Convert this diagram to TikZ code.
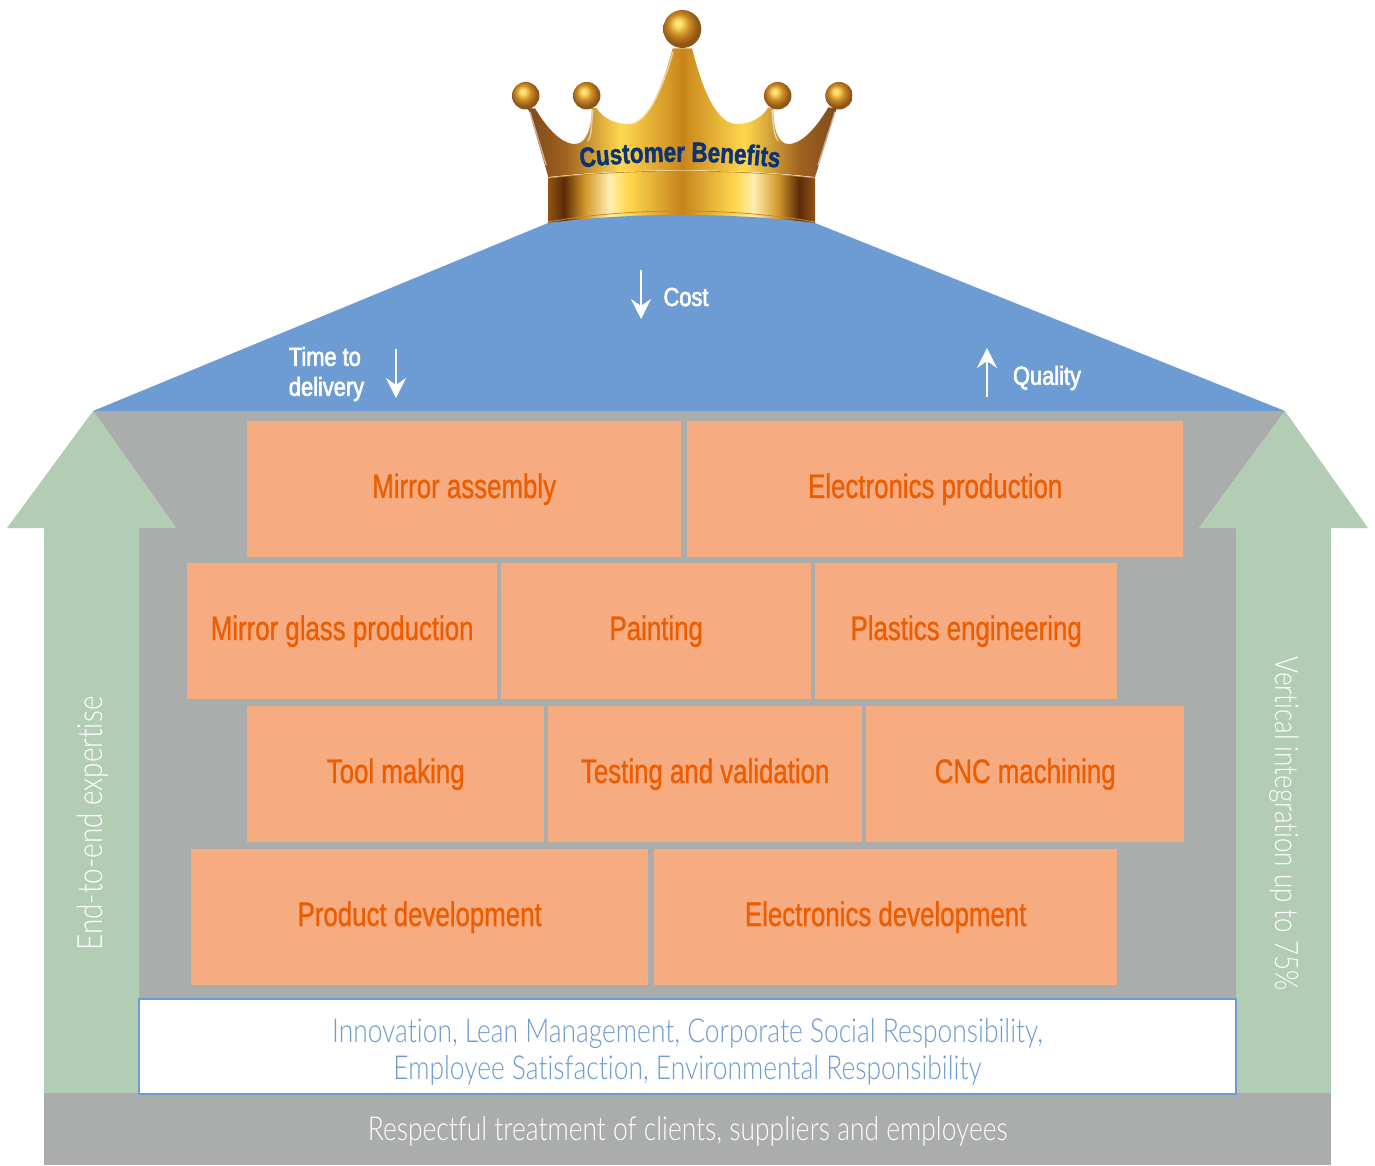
\documentclass[tikz,border=0pt]{standalone}
\usepackage{fontspec}
\setmainfont{Liberation Sans}
\newfontfamily\boxfont[FakeStretch=0.76,FakeBold=0.8]{Liberation Sans}
\newfontfamily\headfont[FakeStretch=0.84,FakeBold=2.5]{Liberation Sans}
\newfontfamily\lightfont[FakeStretch=0.80,Ligatures=NoCommon]{Lato Light}
\newfontfamily\crownfont[FakeStretch=0.80,FakeBold=1.5]{Liberation Sans}
\usetikzlibrary{arrows.meta,decorations.text}
\definecolor{roofblue}{HTML}{6D9BD3}
\definecolor{wallgray}{HTML}{ABADAC}
\definecolor{sidegreen}{HTML}{B2CDB4}
\definecolor{brickfill}{HTML}{F6AB80}
\definecolor{bricktext}{HTML}{EC5C00}
\definecolor{crownnavy}{HTML}{0B3374}
\definecolor{gBrownA}{HTML}{7E4A1C}
\definecolor{gBrownB}{HTML}{A0621F}
\definecolor{gGold}{HTML}{FFD84E}
\definecolor{gMidA}{HTML}{CE8E20}
\definecolor{gMidB}{HTML}{C6831B}
\definecolor{gBandEdge}{HTML}{8F5512}
\definecolor{gBandDark}{HTML}{5C2A08}
\definecolor{gBandTan}{HTML}{D39A2C}
\definecolor{gPale}{HTML}{FFEEB0}
\definecolor{gBallA}{HTML}{FFF0A0}
\definecolor{gBallB}{HTML}{FFD860}
\definecolor{gBallC}{HTML}{C98A24}
\definecolor{gBallD}{HTML}{8F5418}
\definecolor{gLine}{HTML}{C98A24}
\pgfdeclarehorizontalshading{crownbody}{100bp}{
 color(0bp)=(gBrownA);
 color(25bp)=(gBrownA);
 color(31bp)=(gBrownB);
 color(40bp)=(gGold);
 color(49bp)=(gMidA);
 color(50bp)=(gMidB);
 color(51bp)=(gMidA);
 color(60bp)=(gGold);
 color(69bp)=(gBrownB);
 color(75bp)=(gBrownA);
 color(100bp)=(gBrownA)}
\pgfdeclarehorizontalshading{crownband}{100bp}{
 color(0bp)=(gBandEdge);
 color(25bp)=(gBandEdge);
 color(28bp)=(gBandDark);
 color(32bp)=(gBandTan);
 color(36.5bp)=(gPale);
 color(40bp)=(gGold);
 color(50bp)=(gMidB);
 color(60bp)=(gGold);
 color(63.5bp)=(gPale);
 color(68bp)=(gBandTan);
 color(72bp)=(gBandDark);
 color(75bp)=(gBandEdge);
 color(100bp)=(gBandEdge)}
\pgfdeclareradialshading{crownball}{\pgfpoint{-6bp}{8bp}}{
 color(0bp)=(gBallA);
 color(5bp)=(gBallB);
 color(14bp)=(gBallC);
 color(24bp)=(gBallD);
 color(50bp)=(gBallD)}
\tikzset{
 brick/.style={draw=none,fill=brickfill,text=bricktext,font=\boxfont\fontsize{34}{38}\selectfont,inner sep=0pt},
 ball/.style={circle,draw=none,inner sep=0pt,shading=crownball},
 roofnote/.style={text=white,font=\headfont\fontsize{26}{30}\selectfont,inner sep=0pt,align=left},
 lighttext/.style={font=\lightfont\fontsize{33}{37}\selectfont,inner sep=0pt,align=center},
 whitearrow/.style={draw=white,line width=2pt,-{Stealth[length=20pt,width=20pt,inset=7pt]}},
 sheen/.style={draw=white,draw opacity=.55,line width=1.4pt,line cap=round},
}
\newcommand{\brickat}[6]{%
 \node[brick,minimum width=#4pt-#2pt,minimum height=#5pt-#3pt,anchor=north west] (#1) at (#2,#3) {\raisebox{-1.5pt}{#6}};}
\begin{document}
\begin{tikzpicture}[x=1pt,y=-1pt]
\useasboundingbox (0,0) rectangle (1375,1165);
% walls
\fill[wallgray] (93,411) -- (1285,411) -- (1199,528) -- (1236,528) -- (1236,1093) -- (139,1093) -- (139,528) -- (176,528) -- cycle;
% side arrows
\fill[sidegreen] (93,411) -- (176,528) -- (139,528) -- (139,1093) -- (44,1093) -- (44,528) -- (7,528) -- cycle;
\fill[sidegreen] (1285,411) -- (1368,528) -- (1331,528) -- (1331,1093) -- (1236,1093) -- (1236,528) -- (1199,528) -- cycle;
% crown body
\shade[shading=crownbody]
 (548.3,177) -- (528.3,108.3) -- (535,108.3)
 .. controls (545,125) and (560,144) .. (575,144)
 .. controls (586,144) and (592,128) .. (591.7,107.3)
 -- (596.7,108.3)
 .. controls (603,118) and (615,124) .. (626.7,124)
 .. controls (650,124) and (664,80) .. (672.7,48.3)
 -- (692,48.3)
 .. controls (700,80) and (714,124) .. (736.7,124)
 .. controls (750,124) and (762,118) .. (768.3,107.3)
 -- (773.3,108.3)
 .. controls (773,128) and (778,144) .. (788.3,144)
 .. controls (803,144) and (818,125) .. (828.3,107.3)
 -- (836.7,108.3) -- (815,177)
 .. controls (733,168) and (630,168) .. (548.3,177) -- cycle;
% crown sheen
\draw[sheen] (673,52) .. controls (665,80) and (650,122) .. (630,124);
\draw[sheen] (593,110) .. controls (591,125) and (592,135) .. (588,141);
\draw[sheen] (772,110) .. controls (773,125) and (774,135) .. (778,141);
\draw[sheen] (530,112) -- (546,165);
\draw[sheen] (835,112) -- (818,165);
% crown band
\shade[shading=crownband]
 (548,178) .. controls (630,168.8) and (733,168.8) .. (815,178)
 -- (815,224) -- (548,224) -- cycle;
\draw[gLine,line width=.8pt] (548,178) .. controls (630,168.8) and (733,168.8) .. (815,178);
\draw[gLine,line width=.8pt] (548,222) .. controls (630,207.3) and (733,207.3) .. (815,222);
% roof
\fill[roofblue] (93,411) -- (548,223) .. controls (630,212.3) and (733,212.3) .. (815,223) -- (1285,411) -- cycle;
% balls
\node[ball,minimum size=38pt] (ballT) at (682.3,29) {};
\node[ball,minimum size=27.5pt] (ballLL) at (525.7,95.7) {};
\node[ball,minimum size=27.5pt] (ballL) at (586.7,95.7) {};
\node[ball,minimum size=27.5pt] (ballR) at (777.7,95.7) {};
\node[ball,minimum size=27.5pt] (ballRR) at (839,95.7) {};
% crown text
\path[decorate,decoration={text along path,text align=center,
 text={|\crownfont\bfseries\fontsize{28}{30}\selectfont\color{crownnavy}|Customer Benefits}}]
 (575,168.5) .. controls (640,159.5) and (720,159.5) .. (785,168.5);
% bricks
\brickat{b1}{247}{421}{681}{557}{Mirror assembly}
\brickat{b2}{687}{421}{1183}{557}{Electronics production}
\brickat{b3}{187}{563}{497}{699}{Mirror glass production}
\brickat{b4}{501}{563}{811}{699}{Painting}
\brickat{b5}{815}{563}{1117}{699}{Plastics engineering}
\brickat{b6}{247}{706}{544}{842}{Tool making}
\brickat{b7}{548}{706}{862}{842}{Testing and validation}
\brickat{b8}{866}{706}{1184}{842}{CNC machining}
\brickat{b9}{191}{849}{648}{985}{Product development}
\brickat{b10}{654}{849}{1117}{985}{Electronics development}
% base
\node[fill=wallgray,text=white,lighttext,minimum width=1287pt,minimum height=72pt,anchor=north west] (base) at (44,1093) {\raisebox{-11pt}[0pt][0pt]{Respectful treatment of clients, suppliers and employees}};
% values box
\node[draw=roofblue,line width=2pt,fill=white,text=roofblue,lighttext,minimum width=1097pt,minimum height=95pt,anchor=north west] (values) at (138,997.5) {\\[-1pt]Innovation, Lean Management, Corporate Social Responsibility,\\Employee Satisfaction, Environmental Responsibility};
% side texts
\node[lighttext,text=white,rotate=90,font=\lightfont\fontsize{34.8}{37}\selectfont] (endtoend) at (93,823.5) {End-to-end expertise};
\node[lighttext,text=white,rotate=-90,font=\lightfont\fontsize{32.4}{37}\selectfont] (vertical) at (1284,823.5) {Vertical integration up to 75\%};
% roof notes
\node[roofnote] (cost) at (686,297) {Cost};
\node[roofnote] (quality) at (1047,378) {Quality};
\node[roofnote] (time) at (326.5,374) {Time to\\delivery};
\coordinate (costA) at (641,270); \coordinate (costB) at (641,319);
\coordinate (timeA) at (396,349); \coordinate (timeB) at (396,398);
\coordinate (qualA) at (987,397); \coordinate (qualB) at (987,348);
\draw[whitearrow] (costA) -- (costB);
\draw[whitearrow] (timeA) -- (timeB);
\draw[whitearrow] (qualA) -- (qualB);
\end{tikzpicture}
\end{document}
